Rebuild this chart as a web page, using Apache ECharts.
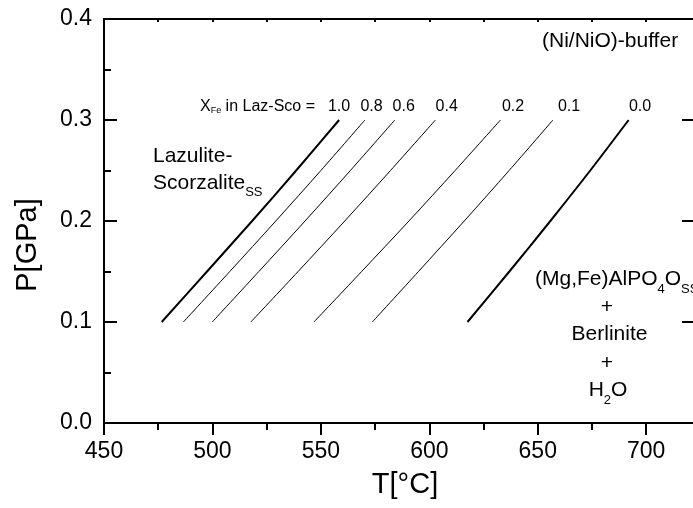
<!DOCTYPE html>
<html>
<head>
<meta charset="utf-8">
<script src="https://cdn.jsdelivr.net/npm/echarts@6/dist/echarts.min.js"></script>
<style>
html,body{margin:0;padding:0;background:#fff;}
#c{width:693px;height:508px;}
</style>
</head>
<body>
<div id="c"></div>
<script>
// ---- data ----
const pressures = [0.1, 0.15, 0.2, 0.25, 0.3];           // P [GPa]
const xfeLabels = ['1.0', '0.8', '0.6', '0.4', '0.2', '0.1', '0.0'];
const T_x10 = [476.6, 497.5, 518.3, 538.6, 558.4];
const T_x08 = [486.6, 508.0, 529.2, 550.0, 570.3];
const T_x06 = [499.9, 521.4, 542.7, 563.6, 584.1];
const T_x04 = [517.7, 539.5, 561.0, 582.1, 602.8];
const T_x02 = [546.8, 568.8, 590.6, 611.9, 632.8];
const T_x01 = [573.7, 595.0, 616.1, 636.8, 657.0];
const T_x00 = [617.6, 636.9, 655.8, 674.2, 691.9];
const curves = [T_x10, T_x08, T_x06, T_x04, T_x02, T_x01, T_x00];
const xTicks = [450, 500, 550, 600, 650, 700];
const yTicks = [0.0, 0.1, 0.2, 0.3, 0.4];

// ---- styles ----
const FONT = '"Liberation Sans", Arial, Helvetica, sans-serif';
const lineWidths = [2, 1, 1, 1, 1, 1, 2];
const labelX = [339, 371.5, 403.7, 446.7, 513, 569, 640];

const series = curves.map((T, i) => ({
  type: 'line',
  name: xfeLabels[i],
  data: T.map((t, j) => [t, pressures[j]]),
  smooth: 0.3,
  symbol: 'none',
  lineStyle: { color: '#000', width: lineWidths[i] },
  silent: true,
  animation: false
}));

const axisCommon = {
  type: 'value',
  splitLine: { show: false },
  axisLine: { show: true, onZero: false, lineStyle: { color: '#000', width: 2 } }
};

function txt(x, y, text, size, opts) {
  return Object.assign({
    type: 'text', x: x, y: y, silent: true,
    style: Object.assign({
      text: text, fontSize: size, fontFamily: FONT, fill: '#000',
      align: 'left', verticalAlign: 'middle'
    }, (opts && opts.style) || {})
  }, (opts && opts.el) || {});
}

const subRich = {
  a: { fontSize: 21, fontFamily: FONT, lineHeight: 22, verticalAlign: 'middle' },
  s: { fontSize: 13, fontFamily: FONT, lineHeight: 13, verticalAlign: 'bottom', padding: [0, 0, -5, 0] }
};

const graphics = [];
// X_Fe label
graphics.push({
  type: 'text', x: 200, y: 106.5, silent: true,
  style: {
    text: '{a|X}{s|Fe}{a| in Laz-Sco =}',
    fontFamily: FONT, fill: '#000', align: 'left', verticalAlign: 'middle',
    rich: {
      a: { fontSize: 16, fontFamily: FONT, lineHeight: 18, verticalAlign: 'middle' },
      s: { fontSize: 9, fontFamily: FONT, lineHeight: 9, verticalAlign: 'bottom' }
    }
  }
});
xfeLabels.forEach((l, i) => {
  graphics.push(txt(labelX[i], 106.5, l, 16, { style: { align: 'center' } }));
});
graphics.push(txt(542, 41, '(Ni/NiO)-buffer', 21));
graphics.push(txt(153, 156, 'Lazulite-', 21));
graphics.push({
  type: 'text', x: 153, y: 183, silent: true,
  style: { text: '{a|Scorzalite}{s|SS}', fontFamily: FONT, fill: '#000',
    align: 'left', verticalAlign: 'middle', rich: subRich }
});
graphics.push({
  type: 'text', x: 535, y: 279.5, silent: true,
  style: { text: '{a|(Mg,Fe)AlPO}{s|4}{a|O}{s|SS}', fontFamily: FONT, fill: '#000',
    align: 'left', verticalAlign: 'middle', rich: subRich }
});
graphics.push(txt(607, 307, '+', 21, { style: { align: 'center' } }));
graphics.push(txt(609.5, 334.5, 'Berlinite', 21, { style: { align: 'center' } }));
graphics.push(txt(607, 363, '+', 21, { style: { align: 'center' } }));
graphics.push({
  type: 'text', x: 608, y: 390.5, silent: true,
  style: { text: '{a|H}{s|2}{a|O}', fontFamily: FONT, fill: '#000',
    align: 'center', verticalAlign: 'middle', rich: subRich }
});
// axis titles
graphics.push(txt(405, 485, 'T[°C]', 29, { style: { align: 'center' } }));
graphics.push(txt(27.5, 245, 'P[GPa]', 29, { style: { align: 'center' }, el: { rotation: Math.PI / 2 } }));

const option = {
  backgroundColor: '#fff',
  animation: false,
  grid: { left: 104, top: 19, width: 591, height: 404, containLabel: false, outerBoundsMode: 'none' },
  xAxis: [
    Object.assign({}, axisCommon, {
      position: 'bottom', min: xTicks[0], max: 722.5, interval: 50,
      axisTick: { show: true, inside: false, length: 12, lineStyle: { color: '#000', width: 2 } },
      minorTick: { show: true, splitNumber: 2, length: 7, lineStyle: { color: '#000', width: 2 } },
      axisLabel: { show: true, fontSize: 23, fontFamily: FONT, color: '#000', margin: 17,
        showMaxLabel: false, showMinLabel: true }
    }),
    Object.assign({}, axisCommon, {
      position: 'top', min: xTicks[0], max: 722.5, interval: 25,
      axisTick: { show: true, inside: true, length: 3, lineStyle: { color: '#000', width: 2 } },
      axisLabel: { show: false }
    })
  ],
  yAxis: [
    Object.assign({}, axisCommon, {
      position: 'left', min: yTicks[0], max: yTicks[yTicks.length - 1], interval: 0.1,
      axisTick: { show: true, inside: true, length: 13, lineStyle: { color: '#000', width: 2 } },
      minorTick: { show: true, splitNumber: 2, length: 7, lineStyle: { color: '#000', width: 2 } },
      axisLabel: { show: true, fontSize: 23, fontFamily: FONT, color: '#000', margin: 12,
        formatter: v => v.toFixed(1) }
    }),
    Object.assign({}, axisCommon, {
      position: 'right', min: yTicks[0], max: yTicks[yTicks.length - 1], interval: 0.1,
      axisTick: { show: true, inside: true, length: 13, lineStyle: { color: '#000', width: 2 } },
      axisLabel: { show: false }
    })
  ],
  series: series,
  graphic: graphics
};

const chart = echarts.init(document.getElementById('c'), null, { renderer: 'canvas' });
chart.setOption(option);
</script>
</body>
</html>
